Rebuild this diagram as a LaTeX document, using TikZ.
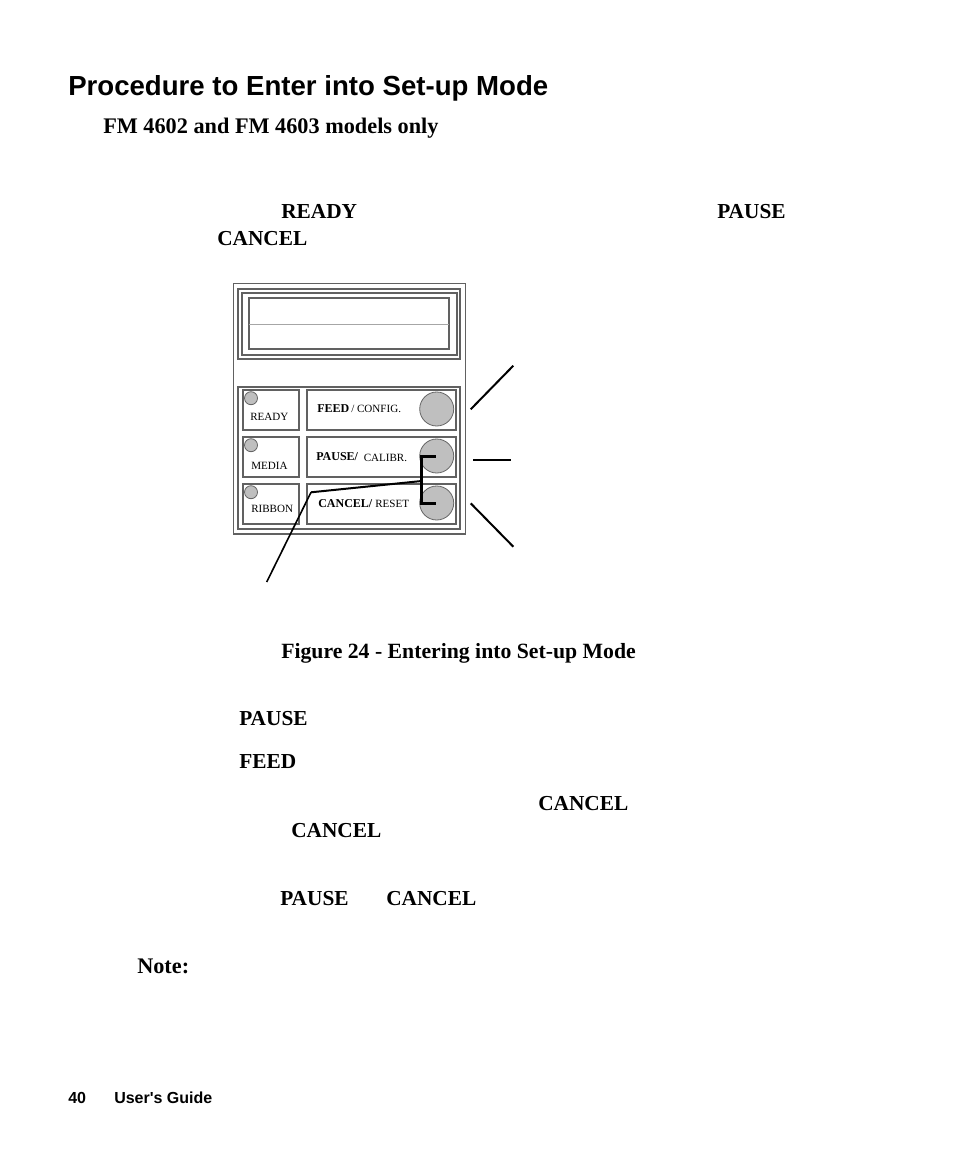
\documentclass[tikz,border=0pt]{standalone}
\usepackage{fontspec}
\setmainfont{Liberation Serif}
\newfontfamily\headfont{Liberation Sans}
\definecolor{btngrey}{gray}{0.75}
\definecolor{framegrey}{gray}{0.38}
\tikzset{
    panelline/.style={draw=framegrey, line width=1.3pt},
    keybox/.style={panelline, fill=white},
    keyround/.style={circle, draw=black!60, line width=0.6pt, fill=btngrey, inner sep=0pt},
    bodytext/.style={inner sep=0pt, anchor=base west, font=\fontsize{16}{16}\selectfont\bfseries},
    keytext/.style={inner sep=0pt, anchor=base west, font=\fontsize{8.3}{9}\selectfont},
    keybold/.style={inner sep=0pt, anchor=base west, font=\fontsize{9}{9}\selectfont\bfseries},
    foottext/.style={inner sep=0pt, anchor=base west, font=\fontsize{12}{12}\selectfont\headfont\bfseries},
    leader/.style={line width=1.5pt, black},
    bracket/.style={line width=2pt, black}
}
\begin{document}
\begin{tikzpicture}[x=0.75pt, y=-0.75pt]
        \useasboundingbox (0,0) rectangle (954,1159);
        % the heading of the page
        \node[inner sep=0pt, anchor=base west, font=\fontsize{20.7}{21}\selectfont\headfont\bfseries] (heading) at (68,95.5) {Procedure to Enter into Set-up Mode};
        \node[bodytext, font=\fontsize{16.7}{17}\selectfont\bfseries] (models) at (103,134) {FM 4602 and FM 4603 models only};

        % the words in the step above the panel
        \node[bodytext] (ready) at (281,218) {READY};
        \node[bodytext] (pausetop) at (717,218) {PAUSE};
        \node[bodytext] (canceltop) at (217,245) {CANCEL};

        % the frames of the panel
        \draw[panelline] (233.5,283.5) rectangle (465.5,534);
        \draw[panelline] (238.3,289.3) rectangle (460.3,359);
        \draw[panelline] (242.3,292.7) rectangle (456.7,355);
        \draw[panelline] (249,298) rectangle (448.7,349);
        \draw[black!35, line width=0.5pt] (249,324.7) -- (448.7,324.7);
        \draw[panelline] (238.3,386.7) rectangle (460.3,529);

        % the three rows of boxes, lamps and buttons
        \foreach \y/\name in {390/feed, 437/pause, 484/cancel} {
            \draw[keybox] (242.7,\y) rectangle +(56.6,39.7);
            \draw[keybox] (306.7,\y) rectangle +(149.6,39.7);
            \node[keyround, minimum size=13pt*0.75] (lamp\name) at (251,\y+8.2) {};
            \node[keyround, minimum size=34pt*0.75] (key\name) at (436.7,\y+19) {};
        }

        % the labels on the panel
        \node[keytext] (lblready) at (250,420) {READY};
        \node[keytext] (lblmedia) at (251,469) {MEDIA};
        \node[keytext] (lblribbon) at (251,512) {RIBBON};
        \node[keybold] (lblfeed) at (317,412) {FEED};
        \node[keytext] (lblconfig) at (351,412) {/ CONFIG.};
        \node[keybold] (lblpause) at (316,460) {PAUSE/};
        \node[keytext] (lblcalibr) at (363.5,461) {CALIBR.};
        \node[keybold] (lblcancel) at (318,507) {CANCEL/};
        \node[keytext] (lblreset) at (375,507) {RESET};

        % the ends of the lines
        \coordinate (topa) at (470.7,409.3);
        \coordinate (topb) at (513.3,365.7);
        \coordinate (mida) at (473.3,460);
        \coordinate (midb) at (511,460);
        \coordinate (lowa) at (470.7,503.3);
        \coordinate (lowb) at (513.3,546.7);
        \coordinate (joint) at (421.7,481);
        \coordinate (bend) at (311,492.3);
        \coordinate (foot) at (266.7,582);

        % the lines beside the panel
        \draw[leader] (topa) -- (topb);
        \draw[line width=0.9pt] (mida) -- (midb);
        \draw[leader] (lowa) -- (lowb);

        % the line to both buttons
        \draw[bracket] (435.7,456.7) -- (421.7,456.7) -- (421.7,503.3) -- (435.7,503.3);
        \draw[leader] (joint) -- (bend);
        \draw[line width=1.2pt] (bend) -- (foot);

        % the caption and the words below it
        \node[bodytext, font=\fontsize{16.3}{17}\selectfont\bfseries] (caption) at (281,658) {Figure 24 - Entering into Set-up Mode};
        \node[bodytext] (pauseb) at (239,725) {PAUSE};
        \node[bodytext] (feedb) at (239,768) {FEED};
        \node[bodytext] (cancela) at (538,810) {CANCEL};
        \node[bodytext] (cancelb) at (291,837) {CANCEL};
        \node[bodytext] (pausec) at (280,905) {PAUSE};
        \node[bodytext] (cancelc) at (386,905) {CANCEL};
        \node[bodytext, font=\fontsize{16.7}{17}\selectfont\bfseries] (note) at (137,973) {Note:};

        % the foot of the page
        \node[foottext] (pagenum) at (68,1103) {40};
        \node[foottext] (guide) at (114,1103) {User's Guide};
    \end{tikzpicture}
\end{document}
